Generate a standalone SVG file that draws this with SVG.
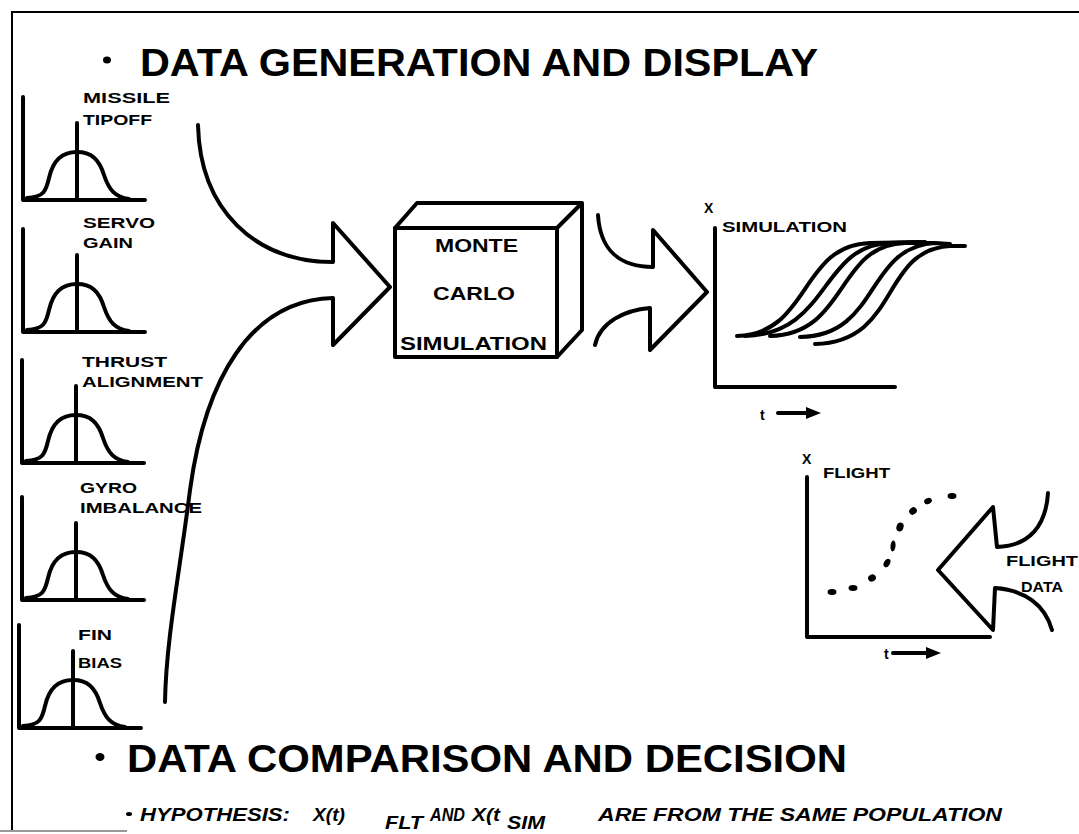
<svg xmlns="http://www.w3.org/2000/svg" width="1079" height="834" viewBox="0 0 1079 834">
  <style>
    .ln { fill: none; stroke: #000; stroke-width: 4; stroke-linecap: round; stroke-linejoin: round; }
    .thin { fill: none; stroke: #000; stroke-width: 2; }
    .lbl { font-family: "Liberation Sans", Arial, sans-serif; font-weight: bold; font-size: 14px; fill: #000; }
    .box { font-family: "Liberation Sans", Arial, sans-serif; font-weight: bold; font-size: 19px; fill: #000; }
    .head { font-family: "Liberation Sans", Arial, sans-serif; font-weight: bold; font-size: 39px; fill: #000; }
    .hyp { font-family: "Liberation Sans", Arial, sans-serif; font-weight: bold; font-style: italic; font-size: 19px; fill: #000; }
    .dot { fill: #000; }
  </style>
  <defs>
    <!-- one distribution plot, origin at the foot of its centre line -->
    <g id="dist">
      <path class="ln" d="M-54,-103 L-54,0 L68,0"/>
      <path class="ln" d="M0,-77 L0,0"/>
      <path class="ln" stroke-width="3.5" d="M-50,-2 C-33,-3 -31,-9 -28,-22 C-24,-40 -15,-48 0,-48 C14,-48 22,-41 27,-25 C32,-10 38,-3 52,-1"/>
    </g>
  </defs>

  <rect width="1079" height="834" fill="#fff"/>

  <!-- page frame -->
  <g id="frame">
    <path class="thin" d="M12,12 L1079,12"/>
    <path class="thin" d="M12,11 L12,831"/>
    <path d="M0,831 L127,831" fill="none" stroke="#999" stroke-width="2"/>
  </g>

  <!-- headings -->
  <g id="heading-top">
    <ellipse class="dot" cx="107" cy="60" rx="4" ry="3.5"/>
    <text class="head" x="140" y="76" textLength="678" lengthAdjust="spacingAndGlyphs">DATA GENERATION AND DISPLAY</text>
  </g>
  <g id="heading-bottom">
    <ellipse class="dot" cx="100" cy="757" rx="4.5" ry="4"/>
    <text class="head" x="127" y="772" textLength="720" lengthAdjust="spacingAndGlyphs">DATA COMPARISON AND DECISION</text>
  </g>
  <g id="hypothesis">
    <ellipse class="dot" cx="129" cy="814" rx="3" ry="2"/>
    <text class="hyp" x="140" y="821" textLength="150" lengthAdjust="spacingAndGlyphs">HYPOTHESIS:</text>
    <text class="hyp" x="313" y="821" textLength="32" lengthAdjust="spacingAndGlyphs">X(t)</text>
    <text class="hyp" x="385" y="829" textLength="38" lengthAdjust="spacingAndGlyphs">FLT</text>
    <text class="hyp" x="430" y="821" textLength="35" lengthAdjust="spacingAndGlyphs">AND</text>
    <text class="hyp" x="472" y="821" textLength="28" lengthAdjust="spacingAndGlyphs">X(t</text>
    <text class="hyp" x="507" y="829" textLength="38" lengthAdjust="spacingAndGlyphs">SIM</text>
    <text class="hyp" x="598" y="821" textLength="404" lengthAdjust="spacingAndGlyphs">ARE FROM THE SAME POPULATION</text>
  </g>

  <!-- input distributions -->
  <g id="missile-tipoff">
    <use href="#dist" x="77" y="200"/>
    <text class="lbl" x="83" y="103" textLength="87" lengthAdjust="spacingAndGlyphs">MISSILE</text>
    <text class="lbl" x="83" y="125" textLength="69" lengthAdjust="spacingAndGlyphs">TIPOFF</text>
  </g>
  <g id="servo-gain">
    <use href="#dist" x="77" y="332"/>
    <text class="lbl" x="83" y="228" textLength="72" lengthAdjust="spacingAndGlyphs">SERVO</text>
    <text class="lbl" x="83" y="248" textLength="50" lengthAdjust="spacingAndGlyphs">GAIN</text>
  </g>
  <g id="thrust-alignment">
    <use href="#dist" x="76" y="463"/>
    <text class="lbl" x="82" y="367" textLength="85" lengthAdjust="spacingAndGlyphs">THRUST</text>
    <text class="lbl" x="82" y="387" textLength="121" lengthAdjust="spacingAndGlyphs">ALIGNMENT</text>
  </g>
  <g id="gyro-imbalance">
    <use href="#dist" x="76" y="600"/>
    <text class="lbl" x="80" y="493" textLength="57" lengthAdjust="spacingAndGlyphs">GYRO</text>
    <text class="lbl" x="80" y="513" textLength="122" lengthAdjust="spacingAndGlyphs">IMBALANCE</text>
  </g>
  <g id="fin-bias">
    <use href="#dist" x="73" y="728"/>
    <text class="lbl" x="78" y="640" textLength="34" lengthAdjust="spacingAndGlyphs">FIN</text>
    <text class="lbl" x="78" y="668" textLength="44" lengthAdjust="spacingAndGlyphs">BIAS</text>
  </g>

  <!-- Monte Carlo block -->
  <g id="monte-carlo">
    <path class="ln" d="M395,228 L557,228 L557,357 L395,357 Z"/>
    <path class="ln" d="M395,228 L417,203 L582,203 L557,228 M582,203 L582,330 L557,357"/>
    <text class="box" x="435" y="252" textLength="83" lengthAdjust="spacingAndGlyphs">MONTE</text>
    <text class="box" x="433" y="300" textLength="82" lengthAdjust="spacingAndGlyphs">CARLO</text>
    <text class="box" x="400" y="350" textLength="147" lengthAdjust="spacingAndGlyphs">SIMULATION</text>
  </g>

  <!-- simulated response plot -->
  <g id="simulation-plot">
    <text class="lbl" x="704" y="213" font-size="17">X</text>
    <text class="lbl" x="722" y="232" textLength="125" lengthAdjust="spacingAndGlyphs">SIMULATION</text>
    <path class="ln" d="M715,228 L715,387 L895,387"/>
    <path class="ln" d="M737,336 C810,334 800,245 870,243 L920,242"/>
    <path class="ln" d="M745,336 C830,334 820,245 890,243 L925,242"/>
    <path class="ln" d="M770,336 C848,334 836,245 905,243 L935,243"/>
    <path class="ln" d="M800,337 C880,336 865,247 935,243 L950,244"/>
    <path class="ln" d="M815,344 C900,342 880,250 950,246 L965,246"/>
    <text class="lbl" x="760" y="420">t</text>
    <path class="ln" stroke-width="3" d="M778,413 L808,413"/>
    <path d="M806,407 L821,413 L806,419 Z" fill="#000"/>
  </g>

  <!-- flight response plot -->
  <g id="flight-plot">
    <text class="lbl" x="802" y="464" font-size="12">X</text>
    <text class="lbl" x="823" y="478" textLength="67" lengthAdjust="spacingAndGlyphs">FLIGHT</text>
    <path class="ln" d="M807,477 L807,637 L990,637"/>
    <g class="dot">
      <ellipse cx="832" cy="592" rx="4.5" ry="3"/>
      <ellipse cx="853" cy="588" rx="4.5" ry="3"/>
      <ellipse cx="872" cy="578" rx="4" ry="3.5" transform="rotate(-30 872 578)"/>
      <ellipse cx="887" cy="563" rx="4.5" ry="3" transform="rotate(-60 887 563)"/>
      <ellipse cx="893" cy="546" rx="5.5" ry="2.5" transform="rotate(-85 893 546)"/>
      <ellipse cx="900" cy="527" rx="4.5" ry="3.5" transform="rotate(-70 900 527)"/>
      <ellipse cx="913" cy="511" rx="4" ry="3.5" transform="rotate(-35 913 511)"/>
      <ellipse cx="928" cy="501" rx="4" ry="3" transform="rotate(-25 928 501)"/>
      <ellipse cx="952" cy="496" rx="4.5" ry="3"/>
    </g>
    <text class="lbl" x="884" y="659">t</text>
    <path class="ln" stroke-width="3" d="M893,653 L928,653"/>
    <path d="M926,647 L941,653 L926,659 Z" fill="#000"/>
  </g>

  <!-- flight data source label -->
  <g id="flight-data">
    <text class="lbl" x="1006" y="566" textLength="72" lengthAdjust="spacingAndGlyphs">FLIGHT</text>
    <text class="lbl" x="1021" y="592" textLength="42" lengthAdjust="spacingAndGlyphs">DATA</text>
  </g>

  <!-- broad flow arrows -->
  <g id="connectors">
    <path class="ln" d="M198,125 C200,210 255,262 333,262 L333,223 L390,287 L333,345 L333,298 C250,300 205,380 190,490 C180,570 166,640 165,702"/>
    <path class="ln" d="M598,215 C600,250 620,267 653,267 L653,230 L707,292 L650,350 L650,308 C625,310 600,322 595,345"/>
    <path class="ln" d="M1048,493 C1046,525 1030,546 997,547 L993,507 L938,570 L993,630 L995,588 C1025,590 1045,605 1052,630"/>
  </g>
</svg>
